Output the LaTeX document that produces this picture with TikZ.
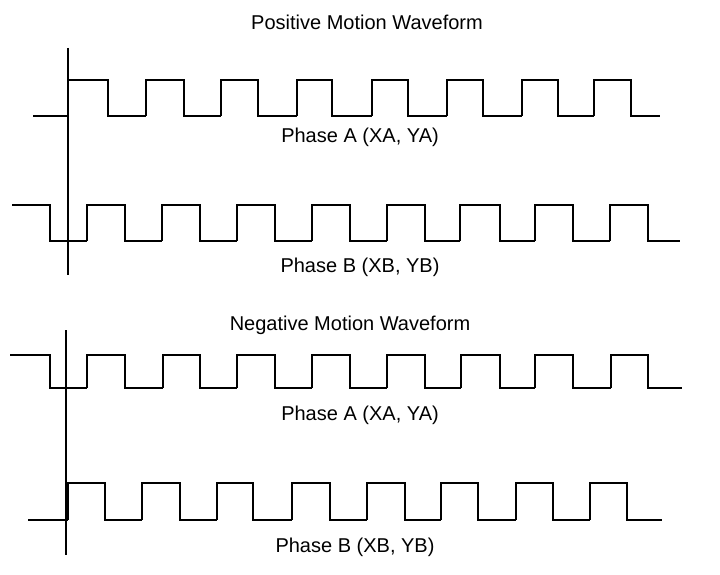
\documentclass[tikz,border=0pt]{standalone}
\usepackage{fontspec}
\setmainfont{Liberation Sans}
\usetikzlibrary{positioning}

\begin{document}
\begin{tikzpicture}[x=0.75pt,y=-0.75pt,
    wave/.style={line width=1.1pt},
    lbl/.style={font=\fontsize{15}{17}\selectfont}]
    \useasboundingbox (0,0) rectangle (720,574);

    % Titles and labels
    \node[lbl] (postitle) at (367,22) {Positive Motion Waveform};
    \node[lbl] (posA) at (360,137) {Phase A (XA, YA)};
    \node[lbl] (posB) at (360,267) {Phase B (XB, YB)};
    \node[lbl] (negtitle) at (350,325) {Negative Motion Waveform};
    \node[lbl] (negA) at (360,415) {Phase A (XA, YA)};
    \node[lbl] (negB) at (355,547) {Phase B (XB, YB)};

    % Vertical reference lines
    \draw[line width=0.9pt] (68,48) -- (68,275);
    \draw[line width=0.9pt] (66,330) -- (66,555);

    % Positive motion, phase A
    \draw[wave] (33,116) -- (68,116);
    \foreach \r/\f/\n in {68/108/146, 146/184/221, 221/258/297, 297/332/372,
                          372/408/447, 447/483/522, 522/558/594, 594/631/660}
        \draw[wave] (\r,116) -- (\r,80) -- (\f,80) -- (\f,116) -- (\n,116);

    % Positive motion, phase B
    \draw[wave] (12,205) -- (50,205) -- (50,241) -- (87,241);
    \foreach \r/\f/\n in {87/125/162, 162/200/237, 237/275/312, 312/350/387,
                          387/425/460, 460/500/535, 535/573/610, 610/648/680}
        \draw[wave] (\r,241) -- (\r,205) -- (\f,205) -- (\f,241) -- (\n,241);

    % Negative motion, phase A
    \draw[wave] (10,355) -- (50,355) -- (50,388) -- (87,388);
    \foreach \r/\f/\n in {87/125/163, 163/200/237, 237/275/312, 312/350/387,
                          387/425/461, 461/500/535, 535/573/611, 611/648/682}
        \draw[wave] (\r,388) -- (\r,355) -- (\f,355) -- (\f,388) -- (\n,388);

    % Negative motion, phase B
    \draw[wave] (28,520) -- (68,520);
    \foreach \r/\f/\n in {68/105/142, 142/180/217, 217/253/292, 292/330/367,
                          367/405/441, 441/478/516, 516/553/590, 590/627/662}
        \draw[wave] (\r,520) -- (\r,483) -- (\f,483) -- (\f,520) -- (\n,520);
\end{tikzpicture}
\end{document}
